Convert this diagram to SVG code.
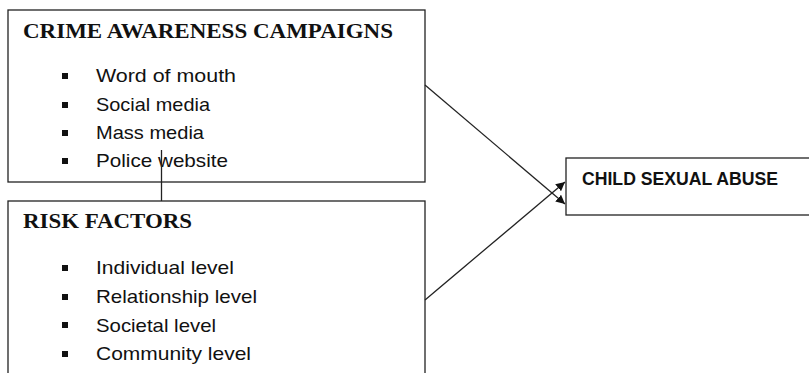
<svg xmlns="http://www.w3.org/2000/svg" width="809" height="373" viewBox="0 0 809 373">
<defs>
<style>
.box{fill:#fff;stroke:#222;stroke-width:1.3}
.hd{font-family:"Liberation Serif",serif;font-weight:bold;font-size:21px;fill:#111}
.it{font-family:"Liberation Sans",sans-serif;font-size:18.5px;fill:#111}
.hs{font-family:"Liberation Sans",sans-serif;font-weight:bold;font-size:18px;fill:#111}
.bl{fill:#111}
.ln{stroke:#222;stroke-width:1.3;fill:none}
</style>
<marker id="ah" viewBox="0 0 10 10" refX="10" refY="5" markerWidth="9" markerHeight="9" markerUnits="userSpaceOnUse" orient="auto">
<path d="M0,0 L10,5 L0,10 z" fill="#111"/>
</marker>
</defs>
<rect width="809" height="373" fill="#fff"/>
<g id="crime">
<rect class="box" x="8" y="10" width="417" height="172"/>
<text class="hd" x="23" y="37.5" textLength="370" lengthAdjust="spacingAndGlyphs">CRIME AWARENESS CAMPAIGNS</text>
<rect class="bl" x="62" y="73" width="6" height="6"/>
<rect class="bl" x="62" y="102" width="6" height="6"/>
<rect class="bl" x="62" y="130" width="6" height="6"/>
<rect class="bl" x="62" y="158" width="6" height="6"/>
<text class="it" x="96" y="82" textLength="140" lengthAdjust="spacingAndGlyphs">Word of mouth</text>
<text class="it" x="96" y="111" textLength="114" lengthAdjust="spacingAndGlyphs">Social media</text>
<text class="it" x="96" y="139" textLength="108" lengthAdjust="spacingAndGlyphs">Mass media</text>
<text class="it" x="96" y="167" textLength="132" lengthAdjust="spacingAndGlyphs">Police website</text>
</g>
<g id="risk">
<rect class="box" x="8" y="201" width="417" height="180"/>
<text class="hd" x="23" y="228" textLength="169" lengthAdjust="spacingAndGlyphs">RISK FACTORS</text>
<rect class="bl" x="62" y="265" width="6" height="6"/>
<rect class="bl" x="62" y="294" width="6" height="6"/>
<rect class="bl" x="62" y="322" width="6" height="6"/>
<rect class="bl" x="62" y="351" width="6" height="6"/>
<text class="it" x="96" y="274" textLength="138" lengthAdjust="spacingAndGlyphs">Individual level</text>
<text class="it" x="96" y="303" textLength="161" lengthAdjust="spacingAndGlyphs">Relationship level</text>
<text class="it" x="96" y="332" textLength="120" lengthAdjust="spacingAndGlyphs">Societal level</text>
<text class="it" x="96" y="360" textLength="155" lengthAdjust="spacingAndGlyphs">Community level</text>
</g>
<g id="csa">
<rect class="box" x="566" y="158" width="250" height="57"/>
<text class="hs" x="582" y="185" textLength="196" lengthAdjust="spacingAndGlyphs">CHILD SEXUAL ABUSE</text>
</g>
<g id="connectors">
<line class="ln" x1="161.5" y1="150" x2="161.5" y2="201"/>
<line class="ln" x1="425" y1="85" x2="565" y2="204" marker-end="url(#ah)"/>
<line class="ln" x1="425" y1="300" x2="565" y2="182" marker-end="url(#ah)"/>
</g>
</svg>
